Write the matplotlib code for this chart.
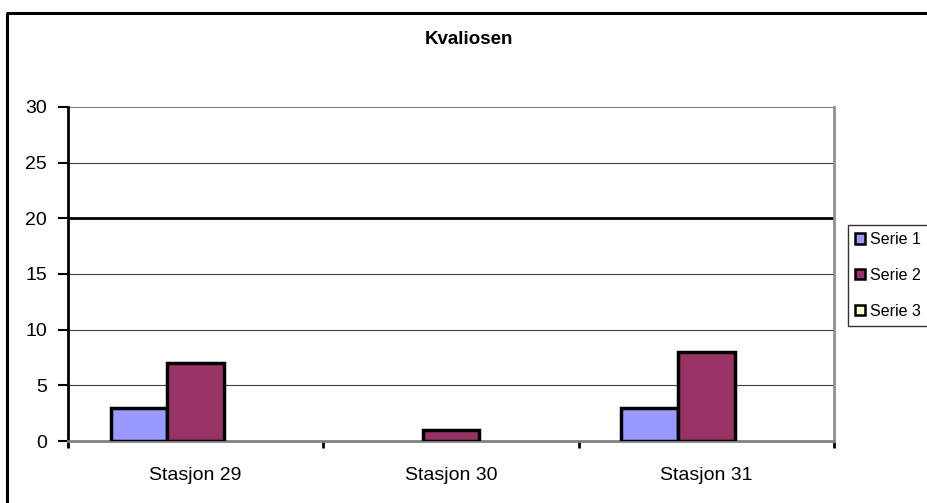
import matplotlib.pyplot as plt
import numpy as np
from matplotlib.lines import Line2D

plt.rcParams['font.family'] = ['Liberation Sans', 'DejaVu Sans']

categories = ["Stasjon 29", "Stasjon 30", "Stasjon 31"]
series_names = ["Serie 1", "Serie 2", "Serie 3"]
serie1 = [3, 0, 3]
serie2 = [7, 1, 8]
serie3 = [0, 0, 0]
colors = ["#9999FF", "#993366", "#FFFFCC"]
yticks = [0, 5, 10, 15, 20, 25, 30]

fig = plt.figure(figsize=(9.27, 5.03), dpi=100)
ax = fig.add_axes([68 / 927, 1 - 441 / 503, 766 / 927, 334 / 503])

# outer chart frame (left and top edges visible)
fig.add_artist(Line2D([7 / 927, 7 / 927], [0, 1 - 13 / 503], transform=fig.transFigure,
                      color="black", lw=2.2, solid_capstyle="butt"))
fig.add_artist(Line2D([6 / 927, 1], [1 - 13 / 503, 1 - 13 / 503], transform=fig.transFigure,
                      color="black", lw=2.2, solid_capstyle="butt"))

x = np.arange(len(categories))
w = 1 / 4.5
for i, vals in enumerate([serie1, serie2, serie3]):
    bars = ax.bar(x + (i - 1) * w, vals, width=w, color=colors[i], edgecolor="black",
                  linewidth=2.5, zorder=3, label=series_names[i])
    for b, v in zip(bars, vals):
        if v == 0:
            b.set_linewidth(0)

ax.set_xlim(-0.5, len(categories) - 0.5)
ax.set_ylim(0, 30)
ax.set_yticks(yticks)
ax.set_yticklabels([str(t) for t in yticks], fontsize=14)
for t in yticks[1:]:
    if t == 20:
        ax.axhline(t, color="black", lw=2, zorder=1)
    elif t == 30:
        ax.axhline(t, color="#808080", lw=1.5, zorder=1)
    else:
        ax.axhline(t, color="#404040", lw=0.8, zorder=1)

ax.set_xticks(x)
ax.set_xticklabels(categories, fontsize=14)
ax.tick_params(axis="x", length=0, pad=19)
ax.set_xticks(np.arange(len(categories) + 1) - 0.5, minor=True)
ax.tick_params(axis="x", which="minor", length=5, width=2, direction="out", color="black")
ax.tick_params(axis="y", length=7, width=1.5, direction="out", pad=8, color="black")

ax.spines["top"].set_visible(False)
ax.spines["right"].set_color("#909090")
ax.spines["right"].set_linewidth(2)
ax.spines["left"].set_linewidth(2)
ax.spines["bottom"].set_color("#808080")
ax.spines["bottom"].set_linewidth(2)

fig.text(469 / 927, 1 - 40 / 503, "Kvaliosen", ha="center", va="center",
         fontsize=13.5, fontweight="bold")

handles = [plt.Rectangle((0, 0), 1, 1, facecolor=c, edgecolor="black", lw=1.8) for c in colors]
leg = fig.legend(handles, series_names, loc="upper left",
                 bbox_to_anchor=(848 / 927, 1 - 225 / 503), fontsize=11.5,
                 frameon=True, fancybox=False, edgecolor="black", handlelength=0.6,
                 handleheight=0.6, handletextpad=0.3, labelspacing=1.3,
                 borderpad=0.45, borderaxespad=0)
leg.get_frame().set_linewidth(1)

fig.savefig("out.png", dpi=100)
